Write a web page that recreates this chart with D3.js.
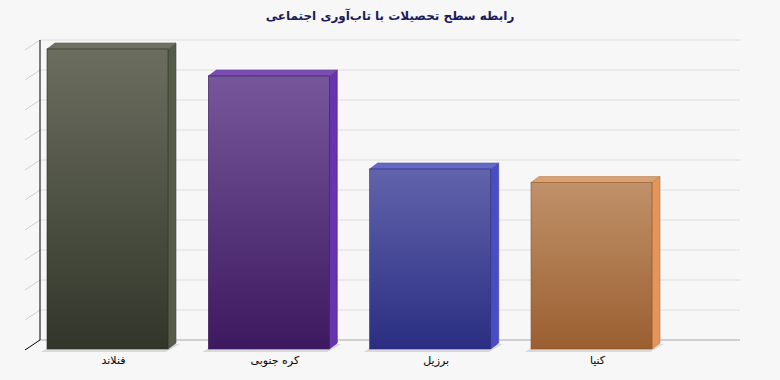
<!DOCTYPE html>
<html lang="fa">
<head>
<meta charset="UTF-8">
<title>رابطه سطح تحصیلات با تاب‌آوری اجتماعی</title>
<script src="https://d3js.org/d3.v7.min.js"></script>
<style>
  body { margin: 0; background: #f7f7f7; }
  svg { display: block; }
</style>
</head>
<body>
<svg id="chart"></svg>
<script>
// data
const categories = ["فنلاند", "کره جنوبی", "برزیل", "کنیا"];
const values = [100, 91, 60, 55.5];
const gridTicks = d3.range(0, 101, 10);

// colours per bar: front top, front bottom, side, top
const frontTop = ["#6b6e5f", "#77579b", "#6163ab", "#c09169"];
const frontBottom = ["#32362a", "#3d195f", "#2a2e82", "#9b5f30"];
const sideColors = ["#565a49", "#6634ad", "#4a4cc6", "#e6955a"];
const topColors = ["#6f7262", "#7a4db3", "#6668c6", "#dba06f"];

const width = 780, height = 380;
const svg = d3.select("#chart").attr("width", width).attr("height", height);

svg.append("rect").attr("width", width).attr("height", height).attr("fill", "#f7f7f7");

// depth offsets
const wallDx = 15, wallDy = 10;
const barDx = 8, barDy = 6;

const x = d3.scaleBand().domain(categories).range([47, 652]).paddingInner(0.25).paddingOuter(0);
const yWall = d3.scaleLinear().domain([0, 100]).range([340, 40]);
const yFront = d3.scaleLinear().domain([0, 100]).range([349, 49]);
const bw = x.bandwidth();

// title
svg.append("text")
  .attr("x", 390).attr("y", 20)
  .attr("text-anchor", "middle")
  .attr("font-family", "DejaVu Sans, sans-serif")
  .attr("font-weight", "bold")
  .attr("font-size", 12)
  .attr("fill", "#1b1b5c")
  .text("رابطه سطح تحصیلات با تاب‌آوری اجتماعی");

// back wall grid
svg.append("g").selectAll("line")
  .data(gridTicks)
  .join("line")
  .attr("x1", 40).attr("x2", 740)
  .attr("y1", d => yWall(d)).attr("y2", d => yWall(d))
  .attr("stroke", d => d === 0 ? "#a8a8a8" : "#dedede")
  .attr("stroke-width", 1);

// side wall ticks
svg.append("g").selectAll("line")
  .data(gridTicks)
  .join("line")
  .attr("x1", 40 - wallDx).attr("x2", 40)
  .attr("y1", d => yWall(d) + wallDy).attr("y2", d => yWall(d))
  .attr("stroke", d => d === 0 ? "#000" : "#d0d0d0")
  .attr("stroke-width", 1);

// vertical axis line
svg.append("line")
  .attr("x1", 40).attr("x2", 40)
  .attr("y1", yWall(100)).attr("y2", yWall(0))
  .attr("stroke", "#000");

// gradients
const defs = svg.append("defs");
categories.forEach((c, i) => {
  const g = defs.append("linearGradient").attr("id", "grad" + i)
    .attr("x1", 0).attr("y1", 0).attr("x2", 0).attr("y2", 1);
  g.append("stop").attr("offset", "0%").attr("stop-color", frontTop[i]);
  g.append("stop").attr("offset", "100%").attr("stop-color", frontBottom[i]);
});

const bars = svg.append("g").selectAll("g")
  .data(categories.map((c, i) => ({ c, v: values[i], i })))
  .join("g");

const base = yFront(0);

// floor shadow
bars.append("polygon")
  .attr("points", d => {
    const x0 = x(d.c);
    return [[x0 - 6, base + 3], [x0 + bw - 2, base + 3], [x0 + bw + barDx + 4, base - barDy + 1], [x0 + barDx, base - barDy]].join(" ");
  })
  .attr("fill", "#d9d9d9");

// side face
bars.append("polygon")
  .attr("points", d => {
    const x0 = x(d.c) + bw, yt = yFront(d.v);
    return [[x0, yt], [x0 + barDx, yt - barDy], [x0 + barDx, base - barDy], [x0, base]].join(" ");
  })
  .attr("fill", d => sideColors[d.i])
  .attr("stroke", d => d3.color(sideColors[d.i]).darker(0.6))
  .attr("stroke-width", 0.6);

// top face
bars.append("polygon")
  .attr("points", d => {
    const x0 = x(d.c), yt = yFront(d.v);
    return [[x0, yt], [x0 + barDx, yt - barDy], [x0 + bw + barDx, yt - barDy], [x0 + bw, yt]].join(" ");
  })
  .attr("fill", d => topColors[d.i])
  .attr("stroke", d => d3.color(topColors[d.i]).darker(0.6))
  .attr("stroke-width", 0.6);

// front face
bars.append("rect")
  .attr("x", d => x(d.c))
  .attr("y", d => yFront(d.v))
  .attr("width", bw)
  .attr("height", d => base - yFront(d.v))
  .attr("fill", d => "url(#grad" + d.i + ")")
  .attr("stroke", d => d3.color(frontBottom[d.i]).darker(0.3))
  .attr("stroke-width", 0.6);

// category labels
svg.append("g").selectAll("text")
  .data(categories)
  .join("text")
  .attr("x", d => x(d) + bw / 2 + 6)
  .attr("y", 364)
  .attr("text-anchor", "middle")
  .attr("font-family", "DejaVu Sans, sans-serif")
  .attr("font-size", 11)
  .attr("fill", "#000")
  .text(d => d);
</script>
</body>
</html>
